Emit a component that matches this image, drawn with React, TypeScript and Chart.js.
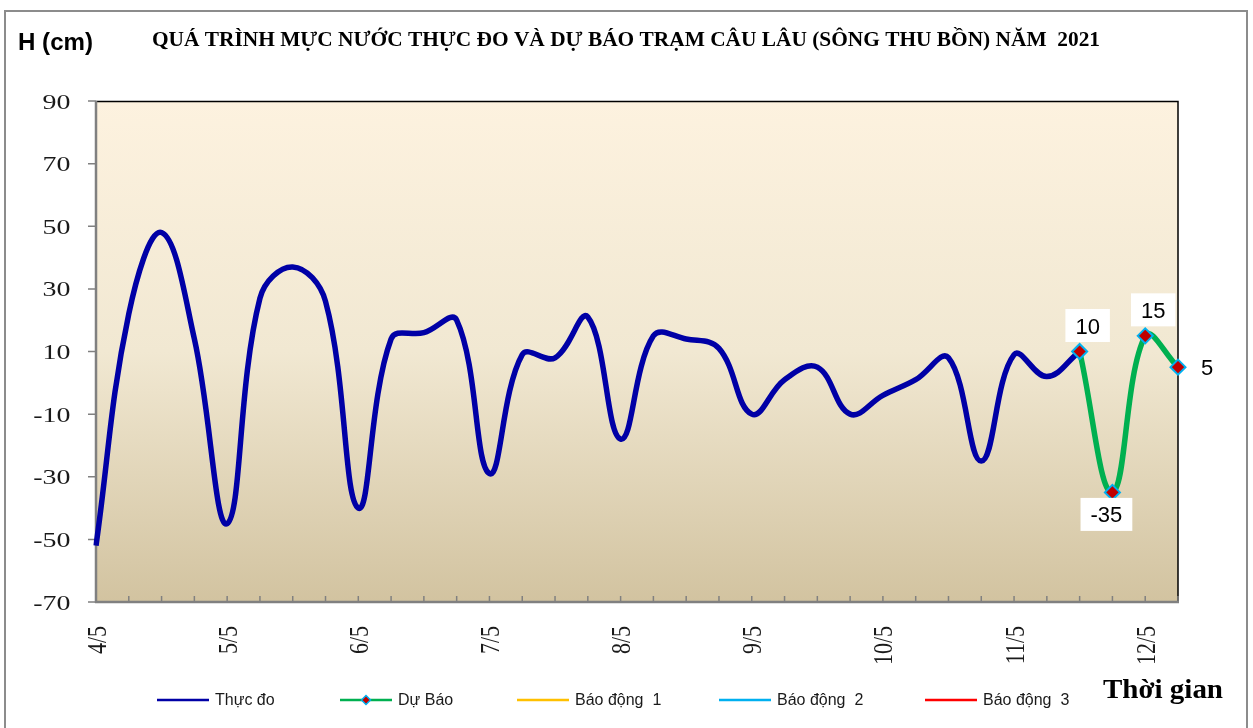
import React, { useEffect, useRef } from 'react';
import { Chart, registerables } from 'chart.js';

Chart.register(...registerables);

// ---------- DATA ----------
const dayLabels = ['4/5', '5/5', '6/5', '7/5', '8/5', '9/5', '10/5', '11/5', '12/5'];
const stepsPerDay = 4; // 4 observations per day (every 6 hours)

// Thực đo (observed), one value per 6 hours from 4/5
const observedValues = [
  -52, 22, 48, 14,
  -45, 27, 37, 26,
  -40, 14, 16, 20,
  -29, 9, 8, 21,
  -18, 15, 14, 11,
  -10, 1, 5, -10,
  -4, 1, 8, -25,
  9, 2, 10,
];

// Dự Báo (forecast), starts at the last observed point
const forecastValues = [10, -35, 15, 5];

// Báo động 1/2/3 (alarm levels) – not visible in the plotted range
const alarm1Values: (number | null)[] = [];
const alarm2Values: (number | null)[] = [];
const alarm3Values: (number | null)[] = [];

const yMin = -70;
const yMax = 90;
const yStep = 20;

const seriesNames = ['Thực đo', 'Dự Báo', 'Báo động  1', 'Báo động  2', 'Báo động  3'];
const forecastLabelPlacement = ['above', 'below', 'above', 'right'];

const titleText = 'QUÁ TRÌNH MỰC NƯỚC THỰC ĐO VÀ DỰ BÁO TRẠM CÂU LÂU (SÔNG THU BỒN) NĂM  2021';
const yAxisTitle = 'H (cm)';
const xAxisTitle = 'Thời gian';

// ---------- derived ----------
const forecastStart = observedValues.length - 1;
const pointCount = forecastStart + forecastValues.length;
const categories: string[] = Array.from({ length: pointCount }, (_, i) => {
  const d = dayLabels[Math.floor(i / stepsPerDay)] ?? '';
  return `${d} ${(i % stepsPerDay) * 6}h`;
});
const forecastSeries: (number | null)[] = Array(forecastStart).fill(null).concat(forecastValues);

// ---------- styles ----------
const SERIF = "'Liberation Serif', 'Times New Roman', serif";
const SANS = "'Liberation Sans', Arial, sans-serif";
const STRETCH = 1.27;
const colors = ['#0000A6', '#00B050', '#FFC000', '#00B0F0', '#FF0000'];
const legendStarts = [157, 340, 517, 719, 925];

function fitText(ctx: CanvasRenderingContext2D, text: string, x: number, y: number, font: string, width: number) {
  ctx.save();
  ctx.font = font;
  const w = ctx.measureText(text).width;
  ctx.translate(x, y);
  ctx.scale(width / w, 1);
  ctx.textAlign = 'left';
  ctx.textBaseline = 'alphabetic';
  ctx.fillText(text, 0, 0);
  ctx.restore();
}

const decorPlugin = {
  id: 'decor',
  beforeDraw(chart: any) {
    const { ctx, chartArea: a, width, height } = chart;
    ctx.save();
    ctx.fillStyle = '#FFFFFF';
    ctx.fillRect(0, 0, width, height);
    // outer frame
    ctx.strokeStyle = '#8C8C8C';
    ctx.lineWidth = 2;
    ctx.strokeRect(5, 11, 1242, 740);
    // plot background
    const g = ctx.createLinearGradient(0, a.top, 0, a.bottom);
    g.addColorStop(0, '#FDF2DF');
    g.addColorStop(0.5, '#F1E8D2');
    g.addColorStop(1, '#D2C3A0');
    ctx.fillStyle = g;
    ctx.fillRect(a.left, a.top, a.right - a.left, a.bottom - a.top);
    ctx.restore();
  },
  beforeDatasetsDraw(chart: any) {
    const { ctx, chartArea: a, scales } = chart;
    const xs = scales.x;
    const ys = scales.y;
    ctx.save();
    // top & right border
    ctx.strokeStyle = '#000000';
    ctx.lineWidth = 1.5;
    ctx.beginPath();
    ctx.moveTo(a.left, a.top + 0.5);
    ctx.lineTo(a.right, a.top + 0.5);
    ctx.lineTo(a.right, a.bottom);
    ctx.stroke();
    // axes
    ctx.strokeStyle = '#808080';
    ctx.lineWidth = 2.5;
    ctx.beginPath();
    ctx.moveTo(a.left, a.top);
    ctx.lineTo(a.left, a.bottom + 1);
    ctx.moveTo(a.left - 1, a.bottom);
    ctx.lineTo(a.right + 1, a.bottom);
    ctx.stroke();
    // y tick marks (outside)
    ctx.lineWidth = 1.5;
    ctx.beginPath();
    for (const t of ys.ticks) {
      const y = ys.getPixelForValue(t.value);
      ctx.moveTo(a.left - 8, y);
      ctx.lineTo(a.left, y);
    }
    // x tick marks (inside)
    for (let i = 1; i < pointCount; i++) {
      const x = xs.getPixelForValue(i);
      ctx.moveTo(x, a.bottom);
      ctx.lineTo(x, a.bottom - 6);
    }
    ctx.stroke();
    ctx.restore();
  },
  afterDatasetsDraw(chart: any) {
    const { ctx } = chart;
    const meta = chart.getDatasetMeta(1);
    ctx.save();
    ctx.font = `22px ${SANS}`;
    forecastValues.forEach((v, k) => {
      const pt = meta.data[forecastStart + k];
      if (!pt) return;
      const place = forecastLabelPlacement[k];
      let cx = pt.x, cy = pt.y;
      if (place === 'above') { cx += 8; cy -= 26; }
      else if (place === 'below') { cx -= 6; cy += 22; }
      else { cx += 29; }
      const text = String(v);
      const tw = ctx.measureText(text).width;
      ctx.fillStyle = '#FFFFFF';
      ctx.fillRect(cx - tw / 2 - 10, cy - 16.5, tw + 20, 33);
      ctx.fillStyle = '#000000';
      ctx.textAlign = 'center';
      ctx.textBaseline = 'alphabetic';
      ctx.fillText(text, cx, cy + 8);
    });
    ctx.restore();
  },
  afterDraw(chart: any) {
    const { ctx, chartArea: a, scales } = chart;
    const xs = scales.x;
    const ys = scales.y;
    ctx.save();
    ctx.fillStyle = '#000000';
    // title
    fitText(ctx, titleText, 152, 46, `bold 20px ${SERIF}`, 948);
    fitText(ctx, yAxisTitle, 18, 50, `bold 24px ${SANS}`, 75);
    fitText(ctx, xAxisTitle, 1103, 698, `bold 27px ${SERIF}`, 120);

    // y labels
    ctx.fillStyle = '#1A1A1A';
    ctx.font = `22px ${SERIF}`;
    for (const t of ys.ticks) {
      const y = ys.getPixelForValue(t.value);
      ctx.save();
      ctx.translate(70.5, y + 7.5);
      ctx.scale(STRETCH, 1);
      ctx.textAlign = 'right';
      ctx.textBaseline = 'alphabetic';
      ctx.fillText(String(t.value), 0, 0);
      ctx.restore();
    }
    // x labels (rotated)
    for (let i = 0; i < pointCount; i += stepsPerDay) {
      const x = xs.getPixelForValue(i);
      const label = dayLabels[i / stepsPerDay];
      ctx.save();
      ctx.translate(x, a.bottom + 24);
      ctx.scale(STRETCH, 1);
      ctx.rotate(-Math.PI / 2);
      ctx.textAlign = 'right';
      ctx.textBaseline = 'alphabetic';
      ctx.fillText(label, 0, 7.5);
      ctx.restore();
    }

    // legend
    const ly = 700;
    ctx.font = `16px ${SANS}`;
    seriesNames.forEach((name, k) => {
      const x0 = legendStarts[k];
      ctx.strokeStyle = colors[k];
      ctx.lineWidth = 2.5;
      ctx.beginPath();
      ctx.moveTo(x0, ly);
      ctx.lineTo(x0 + 52, ly);
      ctx.stroke();
      if (k === 1) {
        const cx = x0 + 26;
        ctx.beginPath();
        ctx.moveTo(cx - 4.5, ly);
        ctx.lineTo(cx, ly - 4.5);
        ctx.lineTo(cx + 4.5, ly);
        ctx.lineTo(cx, ly + 4.5);
        ctx.closePath();
        ctx.fillStyle = '#C00000';
        ctx.fill();
        ctx.strokeStyle = '#00B0F0';
        ctx.lineWidth = 1.5;
        ctx.stroke();
      }
      ctx.fillStyle = '#1A1A1A';
      ctx.textAlign = 'left';
      ctx.textBaseline = 'middle';
      ctx.fillText(name, x0 + 58, ly + 1);
    });
    ctx.restore();
  },
};

export default function App() {
  const canvasRef = useRef<HTMLCanvasElement | null>(null);

  useEffect(() => {
    document.body.style.margin = '0';
    const canvas = canvasRef.current;
    if (!canvas) return;
    const chart = new Chart(canvas, {
      type: 'line',
      data: {
        labels: categories,
        datasets: [
          {
            label: seriesNames[0],
            data: observedValues,
            borderColor: colors[0],
            backgroundColor: colors[0],
            borderWidth: 5.5,
            pointRadius: 0,
            tension: 0.4,
            order: 2,
          },
          {
            label: seriesNames[1],
            data: forecastSeries,
            borderColor: colors[1],
            backgroundColor: colors[1],
            borderWidth: 5.5,
            pointStyle: 'rectRot',
            pointRadius: 7.5,
            pointBackgroundColor: '#C00000',
            pointBorderColor: '#00B0F0',
            pointBorderWidth: 2,
            tension: 0.4,
            clip: false,
            order: 1,
          },
          { label: seriesNames[2], data: alarm1Values, borderColor: colors[2], pointRadius: 0, order: 3 },
          { label: seriesNames[3], data: alarm2Values, borderColor: colors[3], pointRadius: 0, order: 4 },
          { label: seriesNames[4], data: alarm3Values, borderColor: colors[4], pointRadius: 0, order: 5 },
        ],
      },
      options: {
        responsive: false,
        animation: false,
        events: [],
        layout: { padding: { left: 0, top: 101, right: 75, bottom: 0 } },
        plugins: {
          legend: { display: false },
          title: { display: false },
          tooltip: { enabled: false },
        },
        scales: {
          x: {
            type: 'category',
            offset: false,
            grid: { display: false, drawTicks: false },
            border: { display: false },
            ticks: { display: false, autoSkip: false },
            afterFit: (s: any) => { s.height = 126; },
          },
          y: {
            min: yMin,
            max: yMax,
            ticks: { stepSize: yStep, display: false },
            grid: { display: false, drawTicks: false },
            border: { display: false },
            afterFit: (s: any) => { s.width = 96; },
          },
        },
      },
      plugins: [decorPlugin],
    } as any);
    return () => chart.destroy();
  }, []);

  return (
    <div style={{ position: 'absolute', left: 0, top: 0, width: 1253, height: 728 }}>
      <canvas ref={canvasRef} width={1253} height={728} />
    </div>
  );
}
